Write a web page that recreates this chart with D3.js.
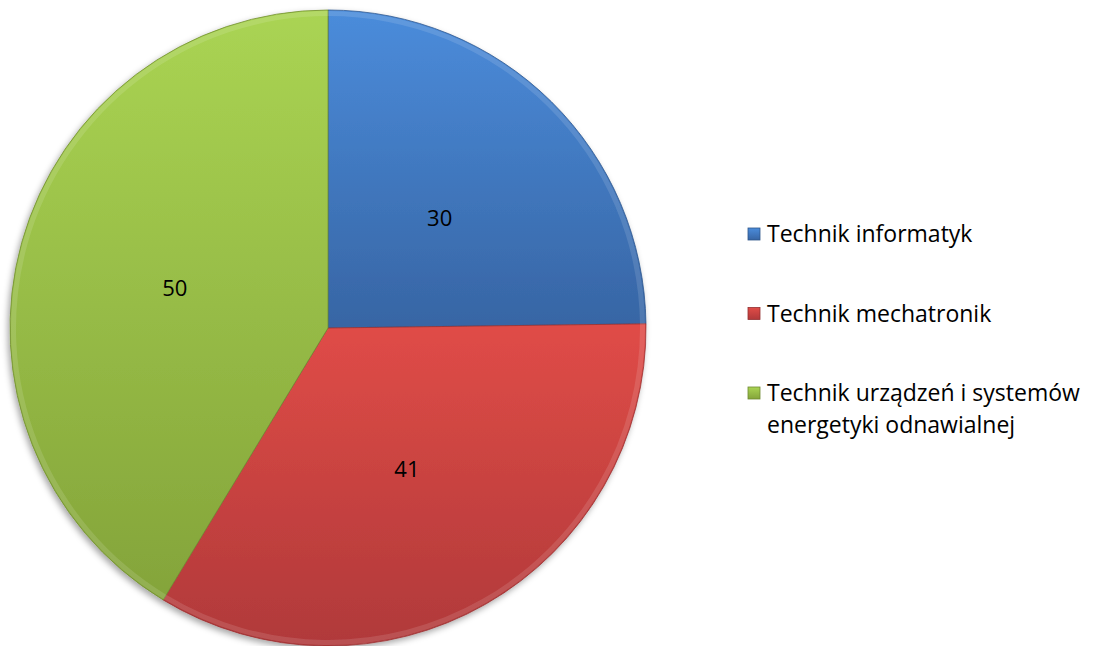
<!DOCTYPE html>
<meta charset="utf-8">
<style>
    body { margin: 0; background: #fff; }
    text { font-family: "Open Sans", Lato, sans-serif; }
</style>
<body>
<svg width="1094" height="646"></svg>
<script src="https://cdn.jsdelivr.net/npm/d3@7"></script>
<script>
    const categories = ["Technik informatyk", "Technik mechatronik", "Technik urządzeń i systemów energetyki odnawialnej"];
    const values = [30, 41, 50];
    const legendLines = [["Technik informatyk"], ["Technik mechatronik"], ["Technik urządzeń i systemów", "energetyki odnawialnej"]];

    const topColors = ["#4b8cdb", "#e04c47", "#aad453"];
    const bottomColors = ["#3765a4", "#b0393a", "#84a43a"];

    const width = 1094, height = 646,
        cx = 328, cy = 328, radius = 318;

    const svg = d3.select("svg");
    const defs = svg.append("defs");

    const shadow = defs.append("filter").attr("id", "shadow")
        .attr("x", "-10%").attr("y", "-10%").attr("width", "120%").attr("height", "120%");
    shadow.append("feDropShadow")
        .attr("dx", -2).attr("dy", 3).attr("stdDeviation", 3)
        .attr("flood-color", "#000").attr("flood-opacity", 0.35);

    categories.forEach((c, i) => {
        const g = defs.append("linearGradient").attr("id", "grad" + i)
            .attr("x1", 0).attr("y1", 0).attr("x2", 0).attr("y2", 1);
        g.append("stop").attr("offset", "0%").attr("stop-color", topColors[i]);
        g.append("stop").attr("offset", "100%").attr("stop-color", bottomColors[i]);
    });

    const pie = d3.pie().sort(null).value(d => d);
    const arcs = pie(values);

    const arc = d3.arc().innerRadius(0).outerRadius(radius);

    const chart = svg.append("g")
        .attr("transform", "translate(" + cx + "," + cy + ")");

    chart.append("g").attr("filter", "url(#shadow)")
        .selectAll("path")
        .data(arcs)
        .enter().append("path")
        .attr("d", arc)
        .attr("fill", (d, i) => "url(#grad" + i + ")")
        .attr("stroke", (d, i) => d3.color(bottomColors[i]).darker(0.4))
        .attr("stroke-width", 0.8);

    // slight bevel highlight along the rim
    chart.selectAll(".rim")
        .data(arcs)
        .enter().append("path")
        .attr("class", "rim")
        .attr("d", d3.arc().innerRadius(radius - 6).outerRadius(radius - 1))
        .attr("fill", "#fff")
        .attr("opacity", 0.12);

    chart.selectAll(".label")
        .data(arcs)
        .enter().append("text")
        .attr("class", "label")
        .attr("transform", d => "translate(" + arc.centroid(d) + ")")
        .attr("text-anchor", "middle")
        .attr("dy", "0.5em")
        .attr("font-size", 22)
        .attr("fill", "#000")
        .text(d => d.data);

    // legend
    const legendY = d3.scalePoint().domain(d3.range(categories.length)).range([234, 393]);

    const legend = svg.append("g").selectAll("g")
        .data(categories)
        .enter().append("g")
        .attr("transform", (d, i) => "translate(748," + legendY(i) + ")");

    legend.append("rect")
        .attr("x", 0).attr("y", -6)
        .attr("width", 12).attr("height", 12)
        .attr("fill", (d, i) => "url(#grad" + i + ")")
        .attr("stroke", (d, i) => d3.color(bottomColors[i]).darker(0.5))
        .attr("stroke-width", 0.8);

    legend.append("text")
        .attr("font-size", 23)
        .attr("fill", "#000")
        .selectAll("tspan")
        .data((d, i) => legendLines[i])
        .enter().append("tspan")
        .attr("x", 19)
        .attr("y", (d, j) => 8 + j * 32)
        .text(d => d);
</script>
</body>
